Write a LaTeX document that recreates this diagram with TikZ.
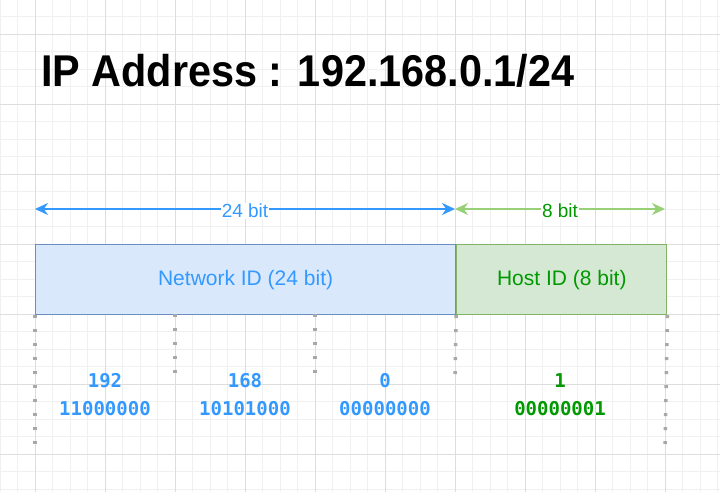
\documentclass[tikz,border=0pt]{standalone}
\usepackage{fontspec}
\setmainfont{Liberation Sans}
\newfontfamily\bitfont{DejaVu Sans Mono}
\usetikzlibrary{arrows.meta,positioning}

\definecolor{netblue}{HTML}{3399FF}
\definecolor{netfill}{HTML}{DAE8FC}
\definecolor{netline}{HTML}{6C8EBF}
\definecolor{hostgreen}{HTML}{009900}
\definecolor{hostfill}{HTML}{D5E8D4}
\definecolor{hostline}{HTML}{82B366}
\definecolor{hostarrow}{HTML}{97D077}
\definecolor{gridminor}{HTML}{F0F0F0}
\definecolor{gridmajor}{HTML}{DDDDDD}
\definecolor{dotgray}{HTML}{A8A8A8}

\tikzset{
	partbox/.style={draw, line width=1.2pt, minimum height=70pt, inner sep=0pt, font=\fontsize{21}{24}\selectfont},
	sizearrow/.style={line width=1.6pt, {Stealth[length=13pt,width=12pt]}-{Stealth[length=13pt,width=12pt]}},
	sizelabel/.style={fill=white, inner sep=1pt, yshift=-2pt, font=\fontsize{19}{21}\selectfont},
	bits/.style={align=center, font=\bitfont\bfseries\fontsize{19}{28}\selectfont},
	splitline/.style={draw=dotgray, line width=3.5pt, dash pattern=on 3pt off 11pt}
}

\begin{document}
\begin{tikzpicture}[x=1pt, y=-1pt]
			%%%%% START %%%%%
			\useasboundingbox[fill=white] (0, 0) rectangle (720, 492);
			
			% grid
			\foreach \gx in {0, 17.5, ..., 720}
				\draw[gridminor, line width=0.8pt] (\gx, 0) -- (\gx, 492);
			\foreach \gy in {-1, 16.5, ..., 492}
				\draw[gridminor, line width=0.8pt] (0, \gy) -- (720, \gy);
			\foreach \gx in {35, 105, ..., 720}
				\draw[gridmajor, line width=0.8pt] (\gx, 0) -- (\gx, 492);
			\foreach \gy in {34, 104, ..., 492}
				\draw[gridmajor, line width=0.8pt] (0, \gy) -- (720, \gy);
			
			% title
			\node[anchor=base west, inner sep=0pt, font=\bfseries\fontsize{44.5}{50}\selectfont] (title) at (41, 86.5) {\scalebox{0.93}[1]{IP Address : 192.168.0.1/24}};
			
			% the two parts
			\node[partbox, fill=netfill, draw=netline, text=netblue, minimum width=420pt, anchor=north west] (net) at (35, 244) {Network ID (24 bit)};
			\node[partbox, fill=hostfill, draw=hostline, text=hostgreen, minimum width=210pt, anchor=north west] (host) at (net.north east) {Host ID (8 bit)};
			
			% size arrows
			\coordinate (netl) at (35, 209);
			\coordinate (mid) at (455, 209);
			\coordinate (hostr) at (665, 209);
			\draw[sizearrow, netblue] (netl) -- (mid) node[sizelabel, text=netblue, midway] (netsize) {24 bit};
			\draw[sizearrow, hostarrow] (mid) -- (hostr) node[sizelabel, text=hostgreen, midway] (hostsize) {8 bit};
			
			% octet borders
			\coordinate (cut0) at (35, 444);
			\coordinate (cut1) at (175, 374);
			\coordinate (cut2) at (315, 374);
			\coordinate (cut3) at (455, 374);
			\coordinate (cut4) at (665, 444);
			\coordinate (top1) at (175, 314);
			\coordinate (top2) at (315, 314);
			\draw[splitline] (net.south west) -- (cut0);
			\draw[splitline] (top1) -- (cut1);
			\draw[splitline] (top2) -- (cut2);
			\draw[splitline] (net.south east) -- (cut3);
			\draw[splitline] (host.south east) -- (cut4);
			
			% octets
			\node[bits, text=netblue] (oct1) at (105, 395) {192\\11000000};
			\node[bits, text=netblue] (oct2) at (245, 395) {168\\10101000};
			\node[bits, text=netblue] (oct3) at (385, 395) {0\\00000000};
			\node[bits, text=hostgreen] (oct4) at (560, 395) {1\\00000001};
			
			%%%%% END %%%%%
		\end{tikzpicture}
\end{document}
